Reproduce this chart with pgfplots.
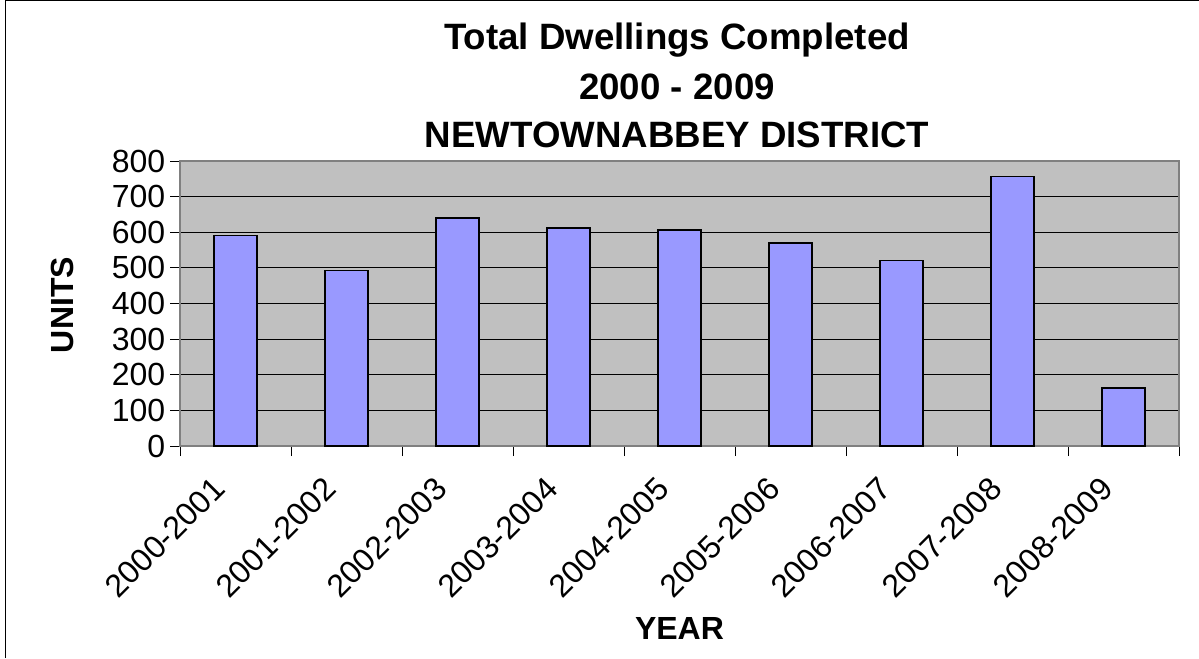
\documentclass[border=0pt]{standalone}
\usepackage{fontspec}
\setmainfont{Liberation Sans}
\usepackage{pgfplots}
\pgfplotsset{compat=1.18}
\definecolor{barblue}{RGB}{153,153,255}
\definecolor{plotgray}{RGB}{192,192,192}
\definecolor{framegray}{RGB}{128,128,128}

\begin{document}
\begin{tikzpicture}
% 1px = 0.75pt; picture is 1199x658 px
\useasboundingbox (0,0) rectangle (899.25pt,493.5pt);
\draw[line width=1.2pt] (4pt,0) -- (4pt,493pt) -- (899.25pt,493pt);

\begin{axis}[
  at={(135pt,159pt)}, anchor=south west,
  scale only axis, width=749.25pt, height=213.75pt,
  ybar, bar width=32.25pt,
  xmin=0.5, xmax=9.5, ymin=0, ymax=800,
  axis background/.style={fill=plotgray},
  axis line style={framegray, line width=1.1pt},
  xtick={0.5,1.5,...,9.5},
  x tick label as interval,
  xticklabels={2000-2001,2001-2002,2002-2003,2003-2004,2004-2005,2005-2006,2006-2007,2007-2008,2008-2009},
  ytick={0,100,...,800},
  tick align=outside, major tick length=7.5pt,
  tick style={black, line width=0.6pt},
  xtick pos=bottom, ytick pos=left,
  ymajorgrids, grid style={black, line width=0.75pt},
  tick label style={font=\fontsize{24}{28}\selectfont},
  xticklabel style={xshift=-10pt, yshift=-18pt, rotate=45, anchor=east},
  /pgf/number format/assume math mode=true,
]
\addplot[fill=barblue, draw=black, line width=1.1pt] coordinates {
  (1,591) (2,493) (3,640) (4,612) (5,606) (6,570) (7,520) (8,757) (9,163)};
\end{axis}

\node[anchor=base, font=\fontsize{27.5}{33}\selectfont\bfseries] at (507.75pt,456pt) {Total Dwellings Completed};
\node[anchor=base, font=\fontsize{27.5}{33}\selectfont\bfseries] at (507.75pt,418.5pt) {2000 - 2009};
\node[anchor=base, font=\fontsize{27.5}{33}\selectfont\bfseries] at (507.75pt,382.5pt) {NEWTOWNABBEY DISTRICT};
\node[anchor=base, font=\fontsize{24}{28}\selectfont\bfseries] at (509.6pt,14.25pt) {YEAR};
\node[rotate=90, font=\fontsize{24}{28}\selectfont\bfseries] at (46.5pt,264.75pt) {UNITS};
\end{tikzpicture}
\end{document}
